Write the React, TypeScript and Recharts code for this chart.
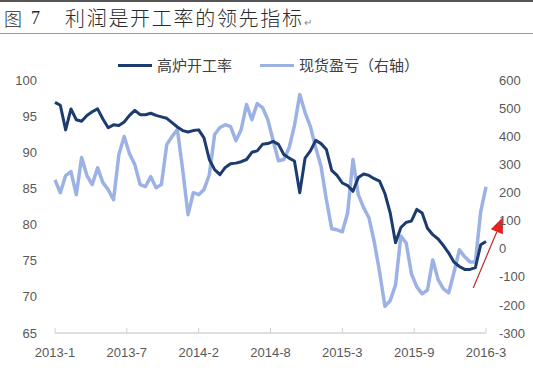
import React from 'react';
import { LineChart, Line, XAxis, YAxis, ReferenceLine } from 'recharts';

// ---- data (biweekly samples, index 0 = 2013-1 ... 81 = 2016-3) ----
const xTickPositions = [0, 13.5, 27, 40.5, 54, 67.5, 81];
const xTickLabels = ['2013-1', '2013-7', '2014-2', '2014-8', '2015-3', '2015-9', '2016-3'];
const leftTicks = [65, 70, 75, 80, 85, 90, 95, 100];
const rightTicks = [-300, -200, -100, 0, 100, 200, 300, 400, 500, 600];

const furnaceRate = [
  96.9, 96.5, 93.1, 96.0, 94.5, 94.3, 95.1, 95.6, 96.0, 94.6,
  93.4, 93.8, 93.7, 94.2, 95.1, 95.8, 95.2, 95.2, 95.4, 95.1,
  94.9, 94.7, 94.1, 93.5, 93.0, 92.8, 93.0, 93.1, 92.0, 89.0,
  87.6, 86.9, 87.9, 88.4, 88.5, 88.7, 89.0, 90.0, 90.2, 91.1,
  91.2, 91.5, 91.1, 89.7, 89.2, 88.8, 84.4, 89.2, 90.2, 91.65,
  91.2, 90.4, 87.5, 86.8, 85.75, 85.4, 84.6, 86.5, 87.0, 86.8,
  86.35, 86.0, 84.3, 81.6, 77.5, 79.6, 80.3, 80.5, 82.1, 81.6,
  79.5, 78.6, 78.0, 77.1, 76.05, 74.8, 74.2, 73.8, 73.8, 74.05,
  77.2, 77.65,
];

const spotProfit = [
  245, 199, 260, 274, 192, 324, 260, 228, 288, 235,
  210, 174, 334, 399, 338, 299, 228, 221, 256, 217,
  228, 370, 399, 424, 281, 121, 199, 192, 210, 263,
  406, 431, 441, 434, 384, 424, 513, 459, 516, 502,
  459, 384, 313, 317, 359, 438, 548, 484, 434, 359,
  292, 174, 71, 67, 60, 128, 317, 192, 146, 110,
  24, -83, -205, -185, -129, 45, 20, -90, -136, -161,
  -147, -40, -110, -143, -157, -83, -4, -29, -47, -47,
  131, 220,
];

const arrowTail = { x: 78.6, y: -140 };
const arrowTip = { x: 84.2, y: 113 };

const DARK = '#1C3B6E';
const LIGHT = '#9DB2E4';

const series = [
  { key: 'furnace', name: '高炉开工率', color: DARK },
  { key: 'profit', name: '现货盈亏（右轴）', color: LIGHT },
];

const data = furnaceRate.map((v, i) => ({ i, furnace: v, profit: spotProfit[i] }));

const TICK_FONT = '"Liberation Sans", Arial, sans-serif';
const CJK_FONT = '"Noto Sans CJK SC", "Noto Sans", sans-serif';

const XTick = (props: any) => {
  const { x, y, payload } = props;
  const idx = xTickPositions.indexOf(payload.value);
  return (
    <g>
      <line x1={x} x2={x} y1={y - 15} y2={y - 20} stroke="#d0d0d0" strokeWidth={1} />
      <text x={x} y={y} dy="0.71em" textAnchor="middle" fill="#595959" fontSize={13} fontFamily={TICK_FONT}>
        {idx >= 0 ? xTickLabels[idx] : ''}
      </text>
    </g>
  );
};

const ArrowShape = (props: any) => {
  const { x1, y1, x2, y2 } = props;
  const dx = x2 - x1;
  const dy = y2 - y1;
  const len = Math.hypot(dx, dy) || 1;
  const ux = dx / len;
  const uy = dy / len;
  const headLen = 16;
  const headW = 6.5;
  const bx = x2 - ux * headLen;
  const by = y2 - uy * headLen;
  const px = -uy;
  const py = ux;
  return (
    <g>
      <line x1={x1} y1={y1} x2={bx} y2={by} stroke="#C0282A" strokeWidth={1.2} />
      <polygon
        points={`${x2},${y2} ${bx + px * headW},${by + py * headW} ${bx - px * headW},${by - py * headW}`}
        fill="#E3221F"
      />
    </g>
  );
};

export default function App() {
  return (
    <div style={{ position: 'absolute', left: 0, top: 0, width: 533, height: 372, background: '#fff', overflow: 'hidden' }}>
      {/* title */}
      <div style={{ position: 'absolute', left: 0, top: 0, width: 533, height: 1.5, background: '#555' }} />
      <div style={{ position: 'absolute', left: 0, top: 33, width: 533, height: 1, background: '#9a9a9a' }} />
      <div style={{ position: 'absolute', left: 4, top: 5, fontFamily: CJK_FONT, fontSize: 18, color: '#2a2a2a', lineHeight: '26px', whiteSpace: 'nowrap', fontWeight: 300 }}>
        图
      </div>
      <div style={{ position: 'absolute', left: 31, top: 5, fontFamily: '"Liberation Serif", serif', fontSize: 18, color: '#2a2a2a', lineHeight: '26px' }}>
        7
      </div>
      <div style={{ position: 'absolute', left: 65, top: 4, fontFamily: CJK_FONT, fontSize: 20, letterSpacing: 1.7, color: '#2a2a2a', lineHeight: '28px', whiteSpace: 'nowrap', fontWeight: 300 }}>
        利润是开工率的领先指标
        <span style={{ fontSize: 10, color: '#888', letterSpacing: 0, marginLeft: 0 }}>↵</span>
      </div>

      {/* legend */}
      <div style={{ position: 'absolute', left: 118, top: 56, height: 18, display: 'flex', alignItems: 'center', fontFamily: CJK_FONT, fontSize: 15, color: '#404040', whiteSpace: 'nowrap' }}>
        {series.map((s, idx) => (
          <div key={s.key} style={{ display: 'flex', alignItems: 'center', marginRight: idx === 0 ? 28 : 0 }}>
            <div style={{ width: 34, height: 3, background: s.color, marginRight: 5 }} />
            <span style={{ lineHeight: '18px' }}>{s.name}</span>
          </div>
        ))}
      </div>

      <div style={{ position: 'absolute', left: 0, top: 0 }}>
        <LineChart width={533} height={372} data={data} margin={{ top: 80, right: 7, bottom: 9, left: 10 }}>
          <XAxis
            dataKey="i"
            type="number"
            domain={[0, 81]}
            ticks={xTickPositions}
            interval={0}
            tickLine={false}
            tickSize={0}
            tickMargin={15}
            axisLine={{ stroke: '#d6d6d6', strokeWidth: 1.5 }}
            tick={<XTick />}
            height={30}
          />
          <YAxis
            yAxisId="left"
            orientation="left"
            domain={[65, 100]}
            ticks={leftTicks}
            interval={0}
            axisLine={false}
            tickLine={false}
            tickSize={0}
            tickMargin={18}
            width={45}
            tick={{ fill: '#595959', fontSize: 13, fontFamily: TICK_FONT }}
          />
          <YAxis
            yAxisId="right"
            orientation="right"
            domain={[-300, 600]}
            ticks={rightTicks}
            interval={0}
            axisLine={false}
            tickLine={false}
            tickSize={0}
            tickMargin={13}
            width={40}
            tick={{ fill: '#595959', fontSize: 13, fontFamily: TICK_FONT, textAnchor: 'start' }}
          />
          <Line
            yAxisId="right"
            dataKey="profit"
            name={series[1].name}
            stroke={LIGHT}
            strokeWidth={3.5}
            dot={false}
            type="linear"
            strokeLinejoin="round"
            isAnimationActive={false}
          />
          <Line
            yAxisId="left"
            dataKey="furnace"
            name={series[0].name}
            stroke={DARK}
            strokeWidth={3}
            dot={false}
            type="linear"
            strokeLinejoin="round"
            isAnimationActive={false}
          />
          <ReferenceLine
            yAxisId="right"
            ifOverflow="visible"
            segment={[arrowTail, arrowTip]}
            shape={<ArrowShape />}
          />
        </LineChart>
      </div>
    </div>
  );
}
